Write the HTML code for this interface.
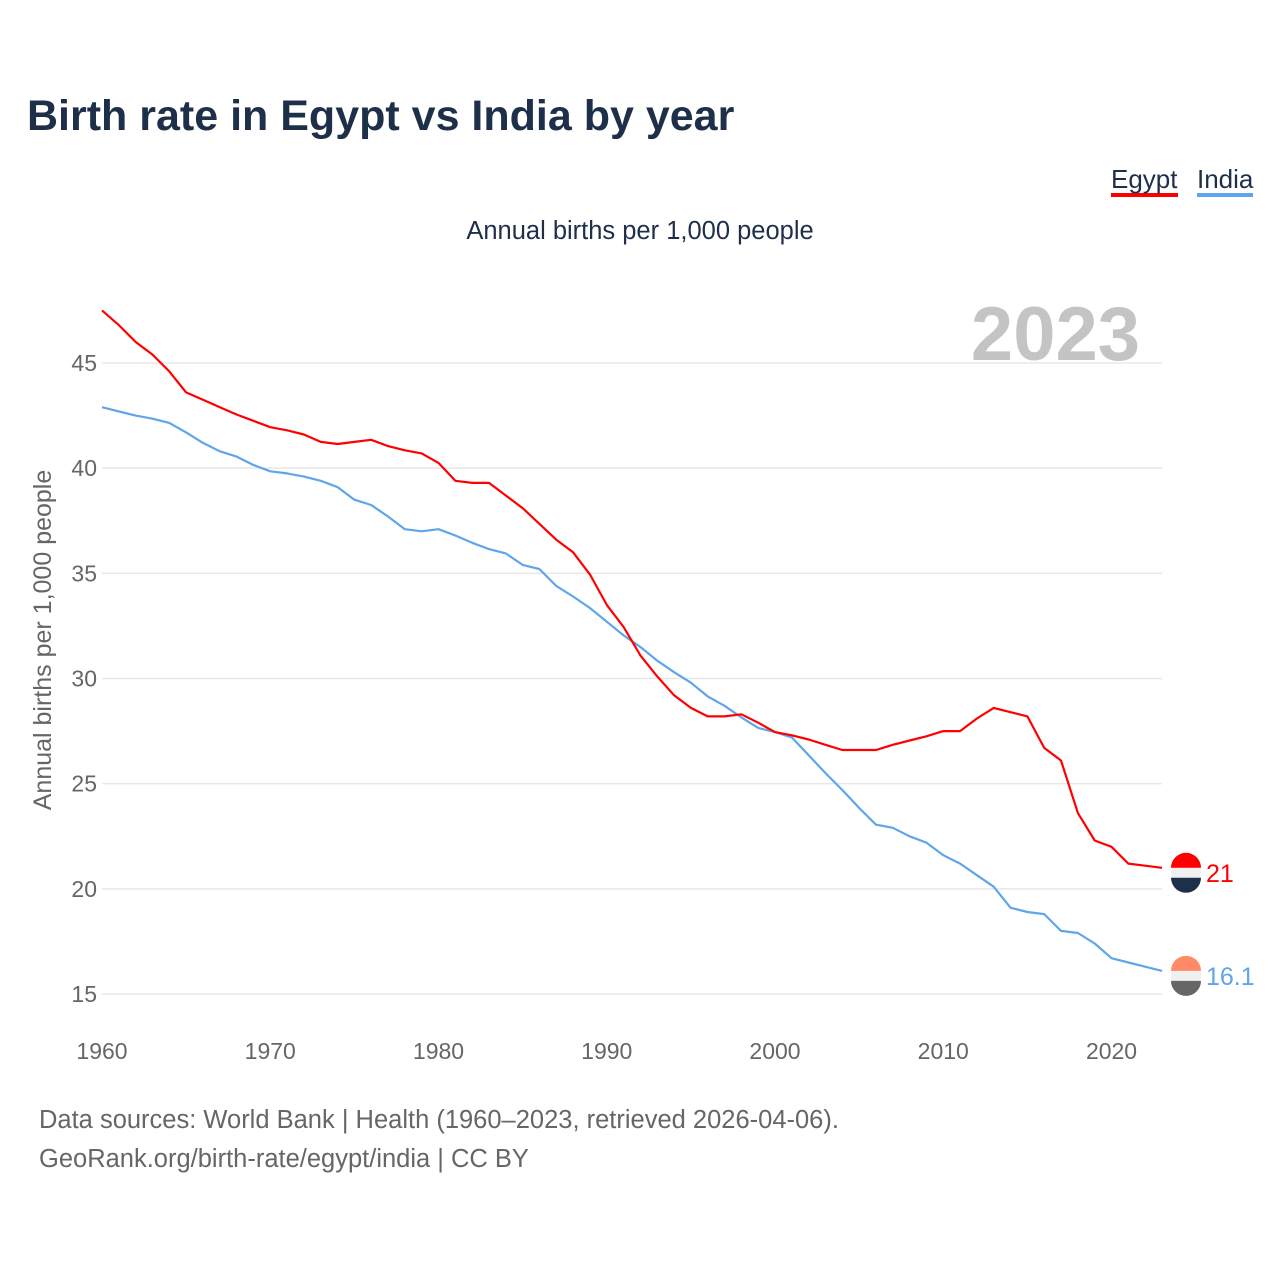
<!DOCTYPE html>
<html><head><meta charset="utf-8"><style>
body{margin:0;background:#fff;font-family:"Liberation Sans",sans-serif;}
#wrap{position:relative;width:1280px;height:1280px;overflow:hidden;}
.t{position:absolute;white-space:nowrap;}
</style></head><body>
<div id="wrap">
<div class="t" style="left:27px;top:92px;font-size:43px;font-weight:bold;color:#1e2f4a;">Birth rate in Egypt vs India by year</div>
<div class="t" style="left:1111px;top:165px;font-size:26px;color:#1e2f4a;border-bottom:4px solid #ff0000;line-height:28px;">Egypt</div>
<div class="t" style="left:1197px;top:165px;font-size:26px;color:#1e2f4a;border-bottom:4px solid #5ea5ea;line-height:28px;">India</div>
<div class="t" style="left:0;width:1280px;text-align:center;top:217px;font-size:25.5px;color:#1e2f4a;">Annual births per 1,000 people</div>
<div class="t" style="left:39px;top:1106px;font-size:25.5px;color:#666;">Data sources: World Bank | Health (1960–2023, retrieved 2026-04-06).</div>
<div class="t" style="left:39px;top:1145px;font-size:25.5px;color:#666;">GeoRank.org/birth-rate/egypt/india | CC BY</div>
<svg id="chart" width="1280" height="1280" style="position:absolute;left:0;top:0;"></svg>
</div>
<script>
const years = [];
for (let y = 1960; y <= 2023; y++) years.push(y);
const egypt = [47.5,46.8,46.0,45.4,44.6,43.6,43.25,42.9,42.55,42.25,41.95,41.8,41.6,41.25,41.15,41.25,41.35,41.05,40.85,40.7,40.25,39.4,39.3,39.3,38.7,38.1,37.35,36.6,36.0,34.95,33.5,32.45,31.1,30.1,29.2,28.6,28.2,28.2,28.3,27.9,27.45,27.3,27.1,26.85,26.6,26.6,26.6,26.85,27.05,27.25,27.5,27.5,28.1,28.6,28.4,28.2,26.7,26.1,23.6,22.3,22.0,21.2,21.1,21.0];
const india = [42.9,42.7,42.5,42.35,42.15,41.7,41.2,40.8,40.55,40.15,39.85,39.75,39.6,39.4,39.1,38.5,38.25,37.7,37.1,37.0,37.1,36.8,36.45,36.15,35.95,35.4,35.2,34.4,33.9,33.35,32.7,32.05,31.5,30.85,30.3,29.8,29.15,28.7,28.15,27.65,27.45,27.2,26.35,25.5,24.7,23.85,23.05,22.9,22.5,22.2,21.6,21.2,20.65,20.1,19.1,18.9,18.8,18.0,17.9,17.4,16.7,16.5,16.3,16.1];
const yTicks = [15,20,25,30,35,40,45];
const xTicks = [1960,1970,1980,1990,2000,2010,2020];

const NS = "http://www.w3.org/2000/svg";
const svg = document.getElementById('chart');
const X = v => 102 + (v - 1960) * (1060 / 63);
const Y = v => 994 - (v - 15) * (631 / 30);
function mk(tag, attrs, parent) {
  const e = document.createElementNS(NS, tag);
  for (const k in attrs) e.setAttribute(k, attrs[k]);
  (parent || svg).appendChild(e);
  return e;
}
yTicks.forEach(v => {
  const g = mk('line', {x1:102, x2:1162, y1:Y(v), y2:Y(v), stroke:'#e8e8e8', 'stroke-width':1.5});
  
  
  const t = mk('text', {x:97, y:Y(v)+8, 'text-anchor':'end', 'font-size':23, fill:'#666', 'font-family':'Liberation Sans, sans-serif'});
  t.textContent = v;
  
  
});
xTicks.forEach(v => {
  const t = mk('text', {x:X(v), y:1059, 'text-anchor':'middle', 'font-size':23, fill:'#666', 'font-family':'Liberation Sans, sans-serif'});
  t.textContent = v;
  
  
});
const yt = mk('text', {transform:'translate(51,640) rotate(-90)', 'text-anchor':'middle', 'font-size':25, fill:'#666', 'font-family':'Liberation Sans, sans-serif'});
yt.textContent = 'Annual births per 1,000 people';


const yr = mk('text', {x:1140, y:360, 'text-anchor':'end', 'font-size':76, 'font-weight':'bold', fill:'#c4c4c4', 'font-family':'Liberation Sans, sans-serif'});
yr.textContent = '2023';



function series(vals, color, name) {
  const d = vals.map((v, i) => (i ? 'L' : 'M') + X(years[i]).toFixed(1) + ',' + Y(v).toFixed(1)).join('');
  const p = mk('path', {d:d, fill:'none', stroke:color, 'stroke-width':2.2, 'stroke-linejoin':'round'});
  
  
  const last = vals[vals.length - 1];
  const cy = Y(last) + 5;
  const c = mk('circle', {cx:1186, cy:cy, r:15, fill:'#f0f0f0'});
  
  
  const top = name === 'egypt' ? '#ff0000' : '#ff8a65';
  const bot = name === 'egypt' ? '#1e2f4a' : '#666';
  mk('path', {d:`M1171,${cy-5}A15,15 0 0 1 1201,${cy-5}Z`, fill:top});
  mk('path', {d:`M1171,${cy+5}A15,15 0 0 0 1201,${cy+5}Z`, fill:bot});
  const t = mk('text', {x:1206, y:cy+9, 'font-size':25, fill:color, 'font-family':'Liberation Sans, sans-serif'});
  t.textContent = last;
  
  
}
series(india, '#5ea5ea', 'india');
series(egypt, '#ff0000', 'egypt');
</script>
</body></html>
